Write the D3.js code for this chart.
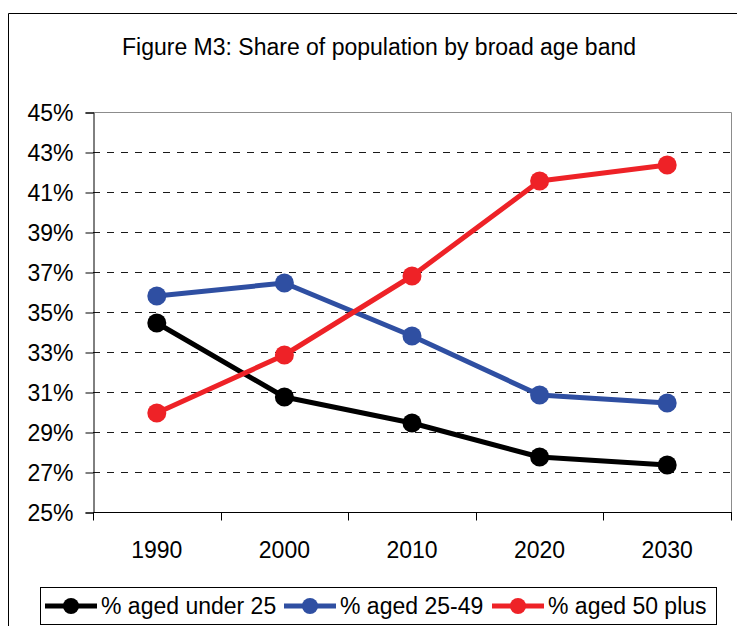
<!DOCTYPE html>
<html>
<head>
<meta charset="utf-8">
<script src="https://cdn.jsdelivr.net/npm/d3@7"></script>
<style>
  html, body { margin: 0; padding: 0; background: #fff; }
  svg { display: block; font-family: "Liberation Sans", Arial, sans-serif; }
</style>
</head>
<body>
<svg id="chart" width="737" height="626"></svg>
<script>
// Share of population by broad age band, per census year
const years = ["1990", "2000", "2010", "2020", "2030"];
const under25 = [34.45, 30.75, 29.45, 27.75, 27.35];
const aged25to49 = [35.8, 36.45, 33.8, 30.85, 30.45];
const aged50plus = [29.95, 32.85, 36.8, 41.55, 42.35];
const yTicks = [25, 27, 29, 31, 33, 35, 37, 39, 41, 43, 45];
const seriesNames = ["% aged under 25", "% aged 25-49", "% aged 50 plus"];
const seriesColors = ["#000000", "#2F4FA2", "#EE2227"];

const series = [under25, aged25to49, aged50plus].map((vals, i) => ({
  name: seriesNames[i],
  color: seriesColors[i],
  values: vals.map((v, j) => ({ year: years[j], value: v }))
}));

const FONT = 23;
const svg = d3.select("#chart");

// Outer chart frame (top and left edges visible)
svg.append("path")
  .attr("d", "M8.5,626 V13.5 H737")
  .attr("fill", "none")
  .attr("stroke", "#000")
  .attr("stroke-width", 1);

// Title
svg.append("text")
  .attr("x", 379)
  .attr("y", 55)
  .attr("text-anchor", "middle")
  .attr("font-size", FONT)
  .attr("fill", "#000")
  .text("Figure M3: Share of population by broad age band");

const plot = { left: 93, right: 731, top: 112, bottom: 512 };

const x = d3.scaleBand()
  .domain(years)
  .range([plot.left, plot.right]);

const y = d3.scaleLinear()
  .domain([25, 45])
  .range([plot.bottom, plot.top]);

// Plot area frame (top and right in grey)
svg.append("path")
  .attr("d", `M${plot.left},${plot.top + 0.5} H${plot.right + 0.5} V${plot.bottom}`)
  .attr("fill", "none")
  .attr("stroke", "#8c8c8c")
  .attr("stroke-width", 1);

// Dashed gridlines
svg.append("g")
  .selectAll("line")
  .data(yTicks.filter(t => t > 25 && t < 45))
  .join("line")
  .attr("x1", plot.left)
  .attr("x2", plot.right)
  .attr("y1", d => Math.round(y(d)) + 0.5)
  .attr("y2", d => Math.round(y(d)) + 0.5)
  .attr("stroke", "#1a1a1a")
  .attr("stroke-width", 1)
  .attr("stroke-dasharray", "7,7");

// Y axis
const yAxis = d3.axisLeft(y)
  .tickValues(yTicks)
  .tickFormat(d => d + "%")
  .tickSize(8)
  .tickPadding(12);

const gy = svg.append("g")
  .attr("transform", `translate(${plot.left + 0.5},0.5)`)
  .call(yAxis);
gy.select(".domain").attr("stroke", "#000");
gy.selectAll(".tick line").attr("stroke", "#000");
gy.selectAll(".tick text")
  .attr("font-size", FONT)
  .attr("font-family", "'Liberation Sans', Arial, sans-serif")
  .attr("fill", "#000")
  .attr("dy", "0.36em");

// X axis: tick marks at category boundaries, labels at centres
const gx = svg.append("g")
  .attr("transform", `translate(0,${plot.bottom + 0.5})`);
gx.append("line")
  .attr("x1", plot.left)
  .attr("x2", plot.right + 1)
  .attr("stroke", "#000");
const edges = years.map(d => x(d)).concat([x(years[years.length - 1]) + x.bandwidth()]);
gx.selectAll("line.edge")
  .data(edges)
  .join("line")
  .attr("class", "edge")
  .attr("x1", d => Math.round(d) + 0.5)
  .attr("x2", d => Math.round(d) + 0.5)
  .attr("y1", 0)
  .attr("y2", 8)
  .attr("stroke", "#000");
gx.selectAll("text")
  .data(years)
  .join("text")
  .attr("x", d => x(d) + x.bandwidth() / 2)
  .attr("y", 45)
  .attr("text-anchor", "middle")
  .attr("font-size", FONT)
  .attr("fill", "#000")
  .text(d => d);

// Series lines and markers
const line = d3.line()
  .x(d => x(d.year) + x.bandwidth() / 2)
  .y(d => y(d.value));

const gs = svg.append("g")
  .selectAll("g")
  .data(series)
  .join("g");

gs.append("path")
  .attr("d", d => line(d.values))
  .attr("fill", "none")
  .attr("stroke", d => d.color)
  .attr("stroke-width", 5)
  .attr("stroke-linejoin", "round");

gs.selectAll("circle")
  .data(d => d.values.map(v => ({ ...v, color: d.color })))
  .join("circle")
  .attr("cx", d => x(d.year) + x.bandwidth() / 2)
  .attr("cy", d => y(d.value))
  .attr("r", 9.5)
  .attr("fill", d => d.color);

// Legend
const legend = svg.append("g");
legend.append("rect")
  .attr("x", 40.5)
  .attr("y", 587.5)
  .attr("width", 676)
  .attr("height", 37)
  .attr("fill", "#fff")
  .attr("stroke", "#000")
  .attr("stroke-width", 1);

const legendItems = [
  { x0: 45, x1: 97, tx: 101 },
  { x0: 284, x1: 336, tx: 340 },
  { x0: 492, x1: 544, tx: 548 }
];
const li = legend.selectAll("g.item")
  .data(series.map((s, i) => ({ ...s, ...legendItems[i] })))
  .join("g")
  .attr("class", "item");
li.append("line")
  .attr("x1", d => d.x0)
  .attr("x2", d => d.x1)
  .attr("y1", 606)
  .attr("y2", 606)
  .attr("stroke", d => d.color)
  .attr("stroke-width", 5);
li.append("circle")
  .attr("cx", d => (d.x0 + d.x1) / 2)
  .attr("cy", 606)
  .attr("r", 8)
  .attr("fill", d => d.color);
li.append("text")
  .attr("x", d => d.tx)
  .attr("y", 614)
  .attr("font-size", FONT)
  .attr("fill", "#000")
  .text(d => d.name);
</script>
</body>
</html>
